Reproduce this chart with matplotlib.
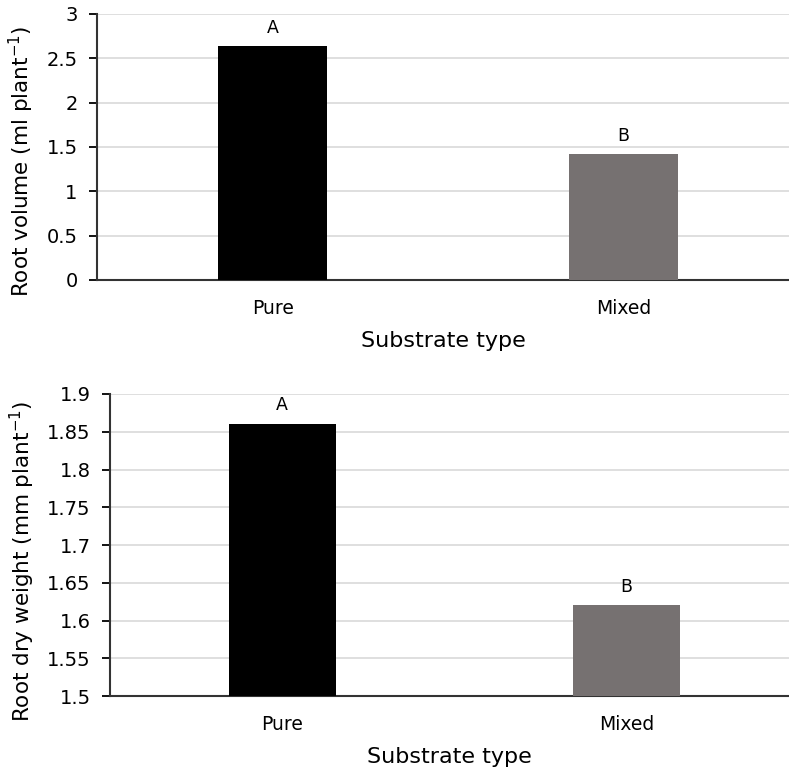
import matplotlib.pyplot as plt

substrates = ['Pure', 'Mixed']
root_volume = [2.64, 1.42]
root_dry_weight = [1.86, 1.62]
letters = ['A', 'B']
bar_colors = ['#000000', '#767171']

fig = plt.figure(figsize=(7.89, 7.73), dpi=100)
ax1 = fig.add_axes([0.123, 0.638, 0.877, 0.344])
ax2 = fig.add_axes([0.1394, 0.0996, 0.8606, 0.3907])


def style(ax, values, ylim, yticks, ylabel, offset, label_x):
    x = range(len(substrates))
    ax.bar(x, values, width=0.31, color=bar_colors, zorder=3)
    for xi, v, l in zip(x, values, letters):
        ax.text(xi, v + offset, l, ha='center', va='bottom', fontsize=12.5)
    ax.set_xlim(-0.5, 1.471)
    ax.set_ylim(*ylim)
    ax.set_yticks(yticks)
    ax.set_yticklabels([f'{t:g}' for t in yticks])
    ax.set_xticks(list(x))
    ax.set_xticklabels(substrates)
    ax.tick_params(axis='x', length=0, labelsize=13.5, pad=14)
    ax.tick_params(axis='y', length=6, width=1.3, labelsize=14, pad=8,
                   direction='out')
    ax.grid(axis='y', color='#dcdcdc', linewidth=1.3, zorder=0)
    ax.spines['top'].set_visible(False)
    ax.spines['right'].set_visible(False)
    ax.spines['left'].set_color('#333333')
    ax.spines['bottom'].set_color('#333333')
    ax.spines['left'].set_linewidth(1.5)
    ax.spines['bottom'].set_linewidth(1.5)
    ax.set_xlabel('Substrate type', fontsize=16, labelpad=9)
    ax.set_ylabel(ylabel, fontsize=15.5)
    ax.yaxis.set_label_coords(label_x, 0.445)


style(ax1, root_volume, (0, 3), [0, 0.5, 1, 1.5, 2, 2.5, 3],
      'Root volume (ml plant$^{-1}$)', 0.1, -0.088)
style(ax2, root_dry_weight, (1.5, 1.9),
      [1.5, 1.55, 1.6, 1.65, 1.7, 1.75, 1.8, 1.85, 1.9],
      'Root dry weight (mm plant$^{-1}$)', 0.013, -0.108)

fig.savefig('out.png', dpi=100)
